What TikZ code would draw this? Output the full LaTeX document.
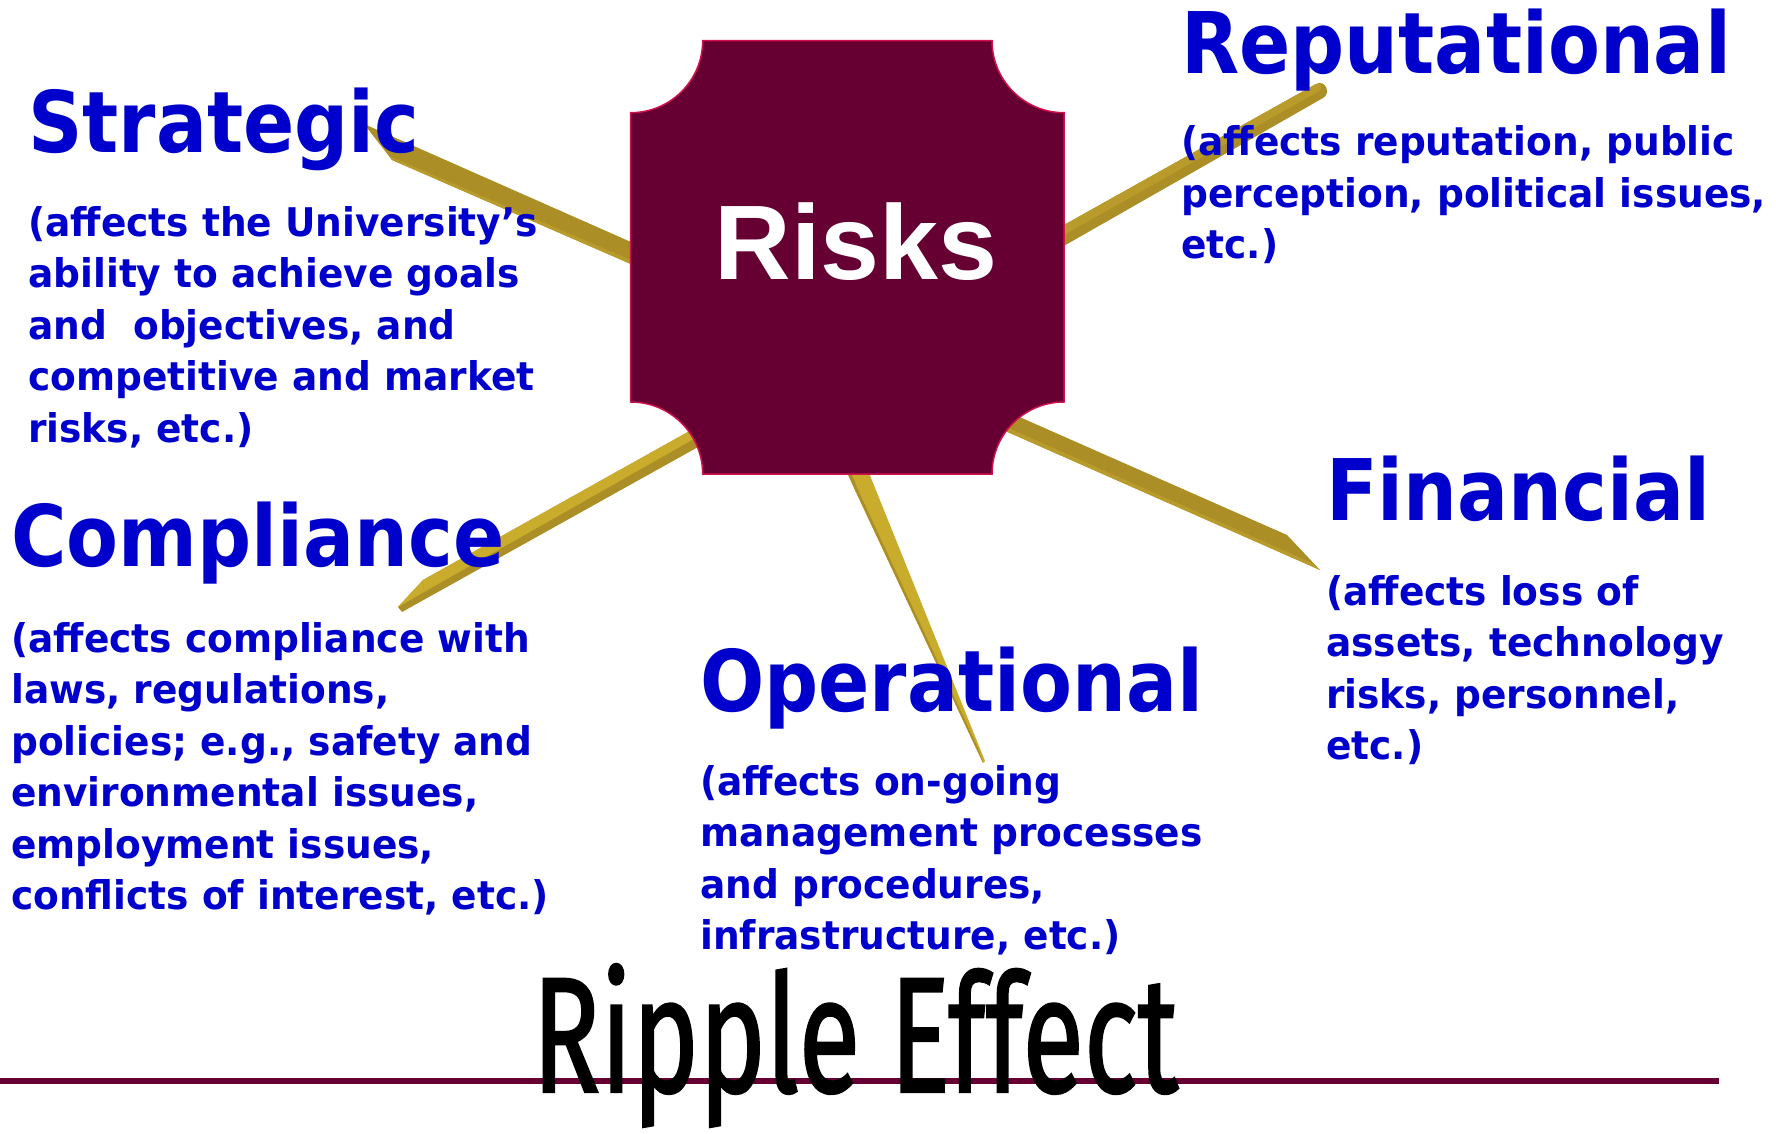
\documentclass[tikz,border=0pt]{standalone}
\usepackage{fontspec}
\usepackage{graphicx}
\newfontfamily\titlefont{DejaVu Sans}[FakeStretch=0.89]
\newfontfamily\bodyfont{DejaVu Sans}[FakeStretch=0.95]
\newfontfamily\riskfont{Liberation Sans}
\newfontfamily\ripplefont{Fira Sans}[Ligatures=NoCommon, FakeBold=1.5]
\definecolor{riskmaroon}{HTML}{660033}
\definecolor{boxedge}{HTML}{D0104C}
\definecolor{riskblue}{HTML}{0000CC}
\definecolor{golddk}{HTML}{AB8F26}
\definecolor{goldmd}{HTML}{B89B2A}
\definecolor{goldlt}{HTML}{CAAC2D}
\tikzset{
  ttl/.style={anchor=base west, inner sep=0pt, text=riskblue,
    font=\titlefont\bfseries\fontsize{85}{100}\selectfont},
  bodytxt/.style={anchor=base west, inner sep=0pt, text=riskblue,
    font=\bodyfont\bfseries\fontsize{39.5}{51.5}\selectfont},
}
\newcommand{\blines}[1]{\begin{tabular}[t]{@{}l@{}}#1\end{tabular}}
\begin{document}
\begin{tikzpicture}[x=1pt,y=-1pt]
\useasboundingbox (0,0) rectangle (1776,1134);
% spokes
% Strategic
\fill[golddk] (364,124) -- (640,246) -- (640,268) -- (392,160) -- cycle;
\fill[goldmd] (392,160) -- (640,268) -- (640,264) -- (389,156) -- cycle;
% Reputational
\fill[golddk] (1055,230) -- (1316,84) .. controls (1326,79) and (1331,94) .. (1323,98) -- (1055,251) -- cycle;
\fill[goldmd] (1055,230) -- (1316,84) .. controls (1320,82) and (1323,86) .. (1321,90) -- (1055,240) -- cycle;
% Compliance
\fill[golddk] (720,414) -- (423,580) -- (398,607) -- (402,612) -- (725,432) -- cycle;
\fill[goldlt] (720,414) -- (423,580) -- (424,592) -- (722,423) -- cycle;
\fill[goldlt] (423,580) -- (398,607) -- (424,592) -- cycle;
% Financial
\fill[golddk] (990,404) -- (1287,535) -- (1320,570) -- (985,422) -- cycle;
\fill[goldmd] (985,422) -- (1320,570) -- (1312,563) -- (986,418) -- cycle;
% Operational
\fill[goldlt] (845,468) -- (867,468) -- (985,761) -- (983,763) -- (855,490) -- cycle;
\fill[golddk] (845,468) -- (855,490) -- (983,763) -- (978,748) -- (859,492) -- (850,470) -- cycle;
% Risks box
\path[fill=riskmaroon, draw=boxedge, line width=1.5pt]
  (702.7,40.7) -- (992,40.7) arc[start angle=180, end angle=90, radius=72]
  -- (1064,402) arc[start angle=270, end angle=180, radius=72]
  -- (702.7,474) arc[start angle=0, end angle=-90, radius=72]
  -- (630.7,112.7) arc[start angle=90, end angle=0, radius=72] -- cycle;
\node[anchor=base, inner sep=0pt, text=white, font=\riskfont\bfseries\fontsize{106}{120}\selectfont] (risks) at (856,279) {Risks};
% titles
\node[ttl] (strategic) at (28,153) {Strategic};
\node[ttl] (reputational) at (1181,74) {Reputational};
\node[ttl] (compliance) at (11,566) {Compliance};
\node[ttl] (operational) at (700,711) {Operational};
\node[ttl] (financial) at (1326,520) {Financial};
% bodies
\node[bodytxt] (strategicB) at (28,236) {\blines{(affects the University’s\\ability to achieve goals\\and\ \ objectives, and\\competitive and market\\risks, etc.)}};
\node[bodytxt] (reputationalB) at (1181,156) {\blines{(affects reputation, public\\perception, political issues,\\etc.)}};
\node[bodytxt] (complianceB) at (11,652) {\blines{(affects compliance with\\laws, regulations,\\policies; e.g., safety and\\environmental issues,\\employment issues,\\conflicts of interest, etc.)}};
\node[bodytxt] (operationalB) at (700,795) {\blines{(affects on-going\\management processes\\and procedures,\\infrastructure, etc.)}};
\node[bodytxt] (financialB) at (1326,605) {\blines{(affects loss of\\assets, technology\\risks, personnel,\\etc.)}};
% bottom line and Ripple Effect
\draw[riskmaroon, line width=6pt] (0,1081) coordinate (lineL) -- (1719,1081) coordinate (lineR);
\node[anchor=base west, inner sep=0pt] (ripple) at (532,1092) {\resizebox{646pt}{128pt}{\ripplefont Ripple Effect}};
\end{tikzpicture}
\end{document}
